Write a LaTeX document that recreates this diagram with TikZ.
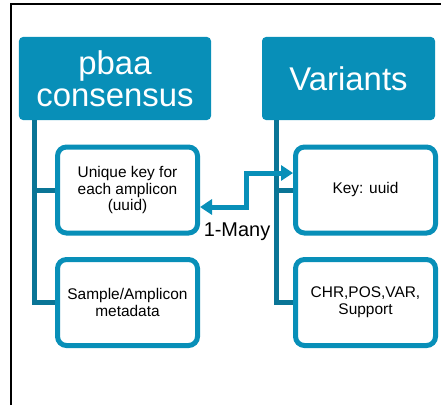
\documentclass[tikz,border=0pt]{standalone}
\usepackage{fontspec}
\setmainfont{Liberation Sans}
\usetikzlibrary{positioning, calc, arrows.meta}
\definecolor{pbteal}{RGB}{8,143,184}
\definecolor{pbdark}{RGB}{10,117,150}
\tikzset{%
  head/.style = {fill = pbteal, rounded corners = 4bp, text = white, align = center,
    minimum height = 83bp, inner sep = 0pt, font = \fontsize{33}{32}\selectfont},
  leaf/.style = {draw = pbteal, line width = 5bp, fill = white, rounded corners = 9bp,
    minimum width = 140bp, minimum height = 86bp, align = center, inner sep = 0pt,
    font = \fontsize{15.5}{17}\selectfont}, % table fields
  tree/.style = {draw = pbdark, line width = 5bp},
  link/.style = {draw = pbteal, line width = 5bp,
    {Triangle[length = 12bp, width = 15bp]}-{Triangle[length = 12bp, width = 15bp]}}
}

\begin{document}
\begin{tikzpicture}[x = 1bp, y = 1bp]
\useasboundingbox (0,0) rectangle (441,405);
%frame
\draw[line width = 2bp] (11,0) -- (11,401) -- (441,401);
%table headers
\draw
	(115,326.5) node [head, minimum width = 192bp] (pbaa) {pbaa\\consensus}
	(348.5,326.5) node [head, minimum width = 173bp] (var) {Variants};
%fields
\draw
	(127.5,215) node [leaf] (key1) {Unique key for\\each amplicon\\(uuid)}
	(127.5,102.5) node [leaf] (meta) {Sample/Amplicon\\metadata}
	(365.5,215) node [leaf] (key2) {Key: uuid}
	(365.5,102.5) node [leaf] (chr) {CHR,POS,VAR,\\Support};
%tree lines
\coordinate (lroot) at ([xshift = 16bp]pbaa.south west);
\coordinate (rroot) at ([xshift = 15bp]var.south west);
\draw[tree] (lroot) |- (meta.west);
\draw[tree] (lroot |- key1.west) -- (key1.west);
\draw[tree] (rroot) |- (chr.west);
\draw[tree] (rroot |- key2.west) -- (key2.west);
%relation
\coordinate (kl) at ([yshift = -17bp]key1.east);
\coordinate (kr) at ([yshift = 17bp]key2.west);
\draw[link] (kl) -| ($(kl)!0.5!(kr)$) |- (kr);
\node[font = \fontsize{20}{22}\selectfont] (many) at (237,173) {1-Many};
\end{tikzpicture}
\end{document}
